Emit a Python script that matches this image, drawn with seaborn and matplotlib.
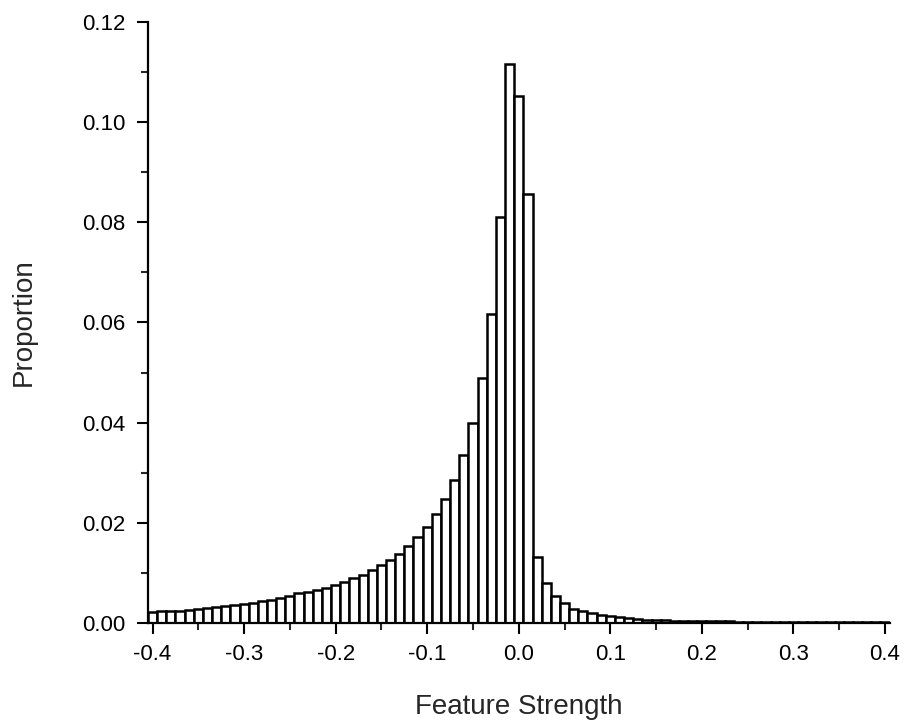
import numpy as np
import matplotlib
matplotlib.use("Agg")
import matplotlib.pyplot as plt
from matplotlib.ticker import MultipleLocator, FormatStrFormatter
import seaborn as sns

# Centros de los intervalos (ancho 0.01) y proporción
bin_centers = [round(c / 100, 2) for c in range(-40, 41)]
proportion = [
    0.0021, 0.0023, 0.0023, 0.0024, 0.0026, 0.0028, 0.0029, 0.0031, 0.0033, 0.0035,
    0.0038, 0.0040, 0.0043, 0.0046, 0.0049, 0.0053, 0.0059, 0.0062, 0.0065, 0.0070,
    0.0076, 0.0082, 0.0089, 0.0096, 0.0105, 0.0115, 0.0125, 0.0138, 0.0153, 0.0171,
    0.0191, 0.0217, 0.0248, 0.0285, 0.0335, 0.0399, 0.0490, 0.0616, 0.0810, 0.1117,
    0.1052, 0.0857, 0.0132, 0.0079, 0.0053, 0.0039, 0.0028, 0.0023, 0.0019, 0.0016,
    0.0013, 0.0011, 0.0009, 0.0007, 0.0006, 0.0005, 0.0005, 0.0004, 0.0004, 0.0004,
    0.0003, 0.0003, 0.0003, 0.0003, 0.0002, 0.0002, 0.0002, 0.0002, 0.0002, 0.0002,
    0.0001, 0.0001, 0.0001, 0.0001, 0.0001, 0.0001, 0.0001, 0.0001, 0.0001, 0.0001,
    0.0001,
]
x_ticks = [-0.4, -0.3, -0.2, -0.1, 0.0, 0.1, 0.2, 0.3, 0.4]
y_ticks = [0.00, 0.02, 0.04, 0.06, 0.08, 0.10, 0.12]

sns.set_style("ticks")
plt.rcParams['font.family'] = ['Liberation Sans', 'DejaVu Sans']

fig = plt.figure(figsize=(9.05, 7.23), dpi=100)
ax = fig.add_axes([0.1635, 0.1385, 0.8195, 0.831])

sns.histplot(x=bin_centers, weights=proportion, binwidth=0.01,
             binrange=(-0.405, 0.405), stat='count', color='white',
             edgecolor='black', linewidth=1.8, alpha=1, ax=ax)

ax.set_xlim(-0.405, 0.405)
ax.set_ylim(0, 0.12)
ax.set_xticks(x_ticks)
ax.set_yticks(y_ticks)
ax.xaxis.set_minor_locator(MultipleLocator(0.05))
ax.yaxis.set_minor_locator(MultipleLocator(0.01))
ax.xaxis.set_major_formatter(FormatStrFormatter('%.1f'))
ax.yaxis.set_major_formatter(FormatStrFormatter('%.2f'))

for side in ['top', 'right']:
    ax.spines[side].set_visible(False)
for side in ['left', 'bottom']:
    ax.spines[side].set_linewidth(1.6)
    ax.spines[side].set_color('black')

ax.tick_params(which='major', length=8, width=1.5, labelsize=16, colors='black')
ax.tick_params(which='minor', length=5, width=1.5)
ax.tick_params(axis='y', which='major', pad=8)
ax.tick_params(axis='x', which='major', pad=7)

ax.set_xlabel('Feature Strength', fontsize=20, labelpad=21)
ax.set_ylabel('Proportion', fontsize=20, labelpad=33)

fig.savefig('out.png', dpi=100)
